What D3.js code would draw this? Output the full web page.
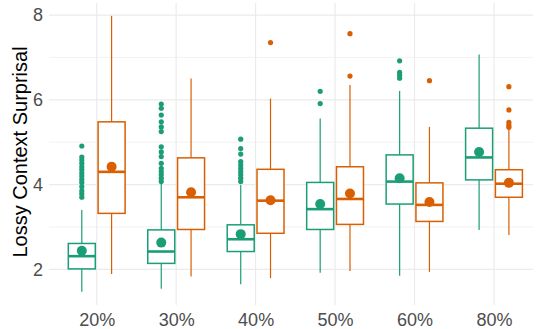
<!DOCTYPE html>
<html><head><meta charset="utf-8">
<script src="https://cdn.jsdelivr.net/npm/d3@7"></script>
<style>body{margin:0;background:#fff}svg{display:block}text{font-family:"Liberation Sans",Arial,sans-serif}</style>
</head><body><svg id="c" width="539" height="329"></svg>
<script>
const categories = ["20%","30%","40%","50%","60%","80%"];
const groups = ["A","B"];
const colors = ["#1b9e77","#d95f02"];
// [lowerWhisker, q1, median, q3, upperWhisker, mean]
const statsA = [
  [1.47,2.01,2.31,2.61,3.40,2.44],
  [1.54,2.14,2.42,2.93,4.07,2.63],
  [1.65,2.42,2.71,3.05,3.99,2.83],
  [1.92,2.94,3.42,4.05,5.56,3.54],
  [1.85,3.54,4.07,4.70,6.21,4.15],
  [2.93,4.11,4.64,5.33,7.07,4.77]
];
const statsB = [
  [1.89,3.32,4.30,5.48,7.98,4.42],
  [1.83,2.94,3.70,4.63,6.50,3.82],
  [1.79,2.85,3.62,4.36,6.03,3.63],
  [1.96,3.06,3.66,4.42,6.35,3.79],
  [1.94,3.13,3.52,4.04,5.36,3.59],
  [2.81,3.70,4.02,4.35,5.33,4.04]
];
const outliersA = [
  [3.70,3.78,3.85,3.95,4.05,4.12,4.20,4.27,4.35,4.42,4.50,4.58,4.65,4.91],
  [4.07,4.15,4.23,4.30,4.38,4.50,4.66,4.77,4.89,5.25,5.36,5.48,5.64,5.80,5.90],
  [4.07,4.15,4.23,4.30,4.38,4.46,4.54,4.72,4.85,5.07],
  [5.91,6.20],
  [6.51,6.58,6.65,6.92],
  []
];
const outliersB = [
  [],
  [],
  [7.35],
  [6.56,7.56],
  [6.45],
  [5.35,5.40,5.47,5.76,6.31]
];
const yTicks = [2,4,6,8];
const yMinor = [3,5,7];
const yTitle = "Lossy Context Surprisal";

const svg = d3.select("#c");
const L = 49, R = 533, T = 3, B = 305;
const x = d3.scalePoint().domain(categories).range([96.7, 494]);
const y = d3.scaleLinear().domain([1.158, 8.284]).range([B, T]);
const step = x.step();
const dodge = step * 0.1875;
const bw = 27;

const grid = svg.append("g");
yMinor.forEach(v => grid.append("line").attr("x1",L).attr("x2",R).attr("y1",y(v)).attr("y2",y(v)).attr("stroke","#f2f2f2").attr("stroke-width",1));
yTicks.forEach(v => grid.append("line").attr("x1",L).attr("x2",R).attr("y1",y(v)).attr("y2",y(v)).attr("stroke","#ebebeb").attr("stroke-width",1.2));
categories.forEach(c => grid.append("line").attr("x1",x(c)).attr("x2",x(c)).attr("y1",T).attr("y2",B).attr("stroke","#ebebeb").attr("stroke-width",1.2));

const all = [statsA, statsB];
const outs = [outliersA, outliersB];
const g = svg.append("g");
[0,1].forEach(gi => {
  const col = colors[gi];
  categories.forEach((c, i) => {
    const cx = x(c) + (gi === 0 ? -dodge : dodge);
    const [lw, q1, md, q3, uw, mn] = all[gi][i];
    g.append("line").attr("x1",cx).attr("x2",cx).attr("y1",y(q3)).attr("y2",y(uw)).attr("stroke",col).attr("stroke-width",1.2);
    g.append("line").attr("x1",cx).attr("x2",cx).attr("y1",y(q1)).attr("y2",y(lw)).attr("stroke",col).attr("stroke-width",1.2);
    g.append("rect").attr("x",cx-bw/2).attr("y",y(q3)).attr("width",bw).attr("height",y(q1)-y(q3)).attr("fill","#fff").attr("stroke",col).attr("stroke-width",1.5);
    g.append("line").attr("x1",cx-bw/2).attr("x2",cx+bw/2).attr("y1",y(md)).attr("y2",y(md)).attr("stroke",col).attr("stroke-width",2.6);
    outs[gi][i].forEach(v => g.append("circle").attr("cx",cx).attr("cy",y(v)).attr("r",2.6).attr("fill",col));
    g.append("circle").attr("cx",cx).attr("cy",y(mn)).attr("r",5).attr("fill",col);
  });
});

const yAxis = svg.append("g").attr("transform",`translate(${L},0)`)
  .call(d3.axisLeft(y).tickValues(yTicks).tickSize(0).tickPadding(6));
yAxis.select(".domain").remove();
yAxis.selectAll("text").attr("font-size",18).attr("fill","#4d4d4d").attr("font-family","Liberation Sans, Arial, sans-serif");

const xAxis = svg.append("g").attr("transform",`translate(0,${B})`)
  .call(d3.axisBottom(x).tickSize(0).tickPadding(8));
xAxis.select(".domain").remove();
xAxis.selectAll("text").attr("font-size",18).attr("fill","#4d4d4d").attr("font-family","Liberation Sans, Arial, sans-serif");

svg.append("text").attr("transform",`translate(26.7,152) rotate(-90)`)
  .attr("text-anchor","middle").attr("font-size",20).attr("fill","#000").text(yTitle);
</script></body></html>
